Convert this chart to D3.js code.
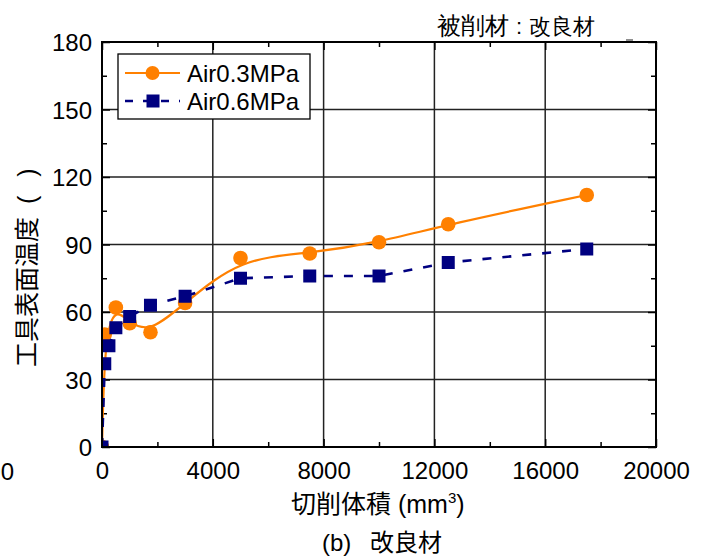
<!DOCTYPE html>
<html>
<head>
<meta charset="utf-8">
<script src="https://cdn.jsdelivr.net/npm/d3@7"></script>
<style>
  body { margin: 0; background: #fff; }
  svg { display: block; }
  text { font-family: "Liberation Sans", Arial, sans-serif; fill: #000; }
  .cjk { font-family: "Noto Sans CJK JP", "Noto Sans CJK SC", sans-serif; }
</style>
</head>
<body>
<svg id="chart" width="709" height="558"></svg>
<script>
// Cutting volume (mm^3) and tool surface temperature for each air pressure
const volume03 = [0, 100, 500, 1000, 1750, 3000, 5000, 7500, 10000, 12500, 17500];
const temp03   = [0, 50, 62, 55, 51, 64, 84, 86, 91, 99, 112];
const volume06 = [0, 100, 250, 500, 1000, 1750, 3000, 5000, 7500, 10000, 12500, 17500];
const temp06   = [0, 37, 45, 53, 58, 63, 67, 75, 76, 76, 82, 88];

const seriesNames = ["Air0.3MPa", "Air0.6MPa"];
const xTicks = [0, 4000, 8000, 12000, 16000, 20000];
const xMinor = [2000, 6000, 10000, 14000, 18000];
const yTicks = [0, 30, 60, 90, 120, 150, 180];
const yMinor = [15, 45, 75, 105, 135, 165];

const svg = d3.select("#chart");
const L = 102, R = 656, T = 42, B = 447;

const x = d3.scaleLinear().domain([0, 20000]).range([L, R]);
const y = d3.scaleLinear().domain([0, 180]).range([B, T]);

const ORANGE = "#ff8000", NAVY = "#000080";

// grid lines at interior major ticks
const grid = svg.append("g").attr("stroke", "#222").attr("stroke-width", 1.5);
grid.selectAll(".gx").data(xTicks.slice(1, -1)).join("line")
  .attr("x1", d => x(d)).attr("x2", d => x(d)).attr("y1", T).attr("y2", B);
grid.selectAll(".gy").data(yTicks.slice(1, -1)).join("line")
  .attr("x1", L).attr("x2", R).attr("y1", d => y(d)).attr("y2", d => y(d));

// inward ticks on all four sides
function tickAxis(axisFn, scale, values, size, transform) {
  const g = svg.append("g").attr("transform", transform)
    .call(axisFn(scale).tickValues(values).tickSize(-size).tickFormat(""));
  g.select(".domain").remove();
  g.selectAll(".tick line").attr("stroke", "#000").attr("stroke-width", 1.5);
}
tickAxis(d3.axisLeft, y, yTicks, 8, `translate(${L},0)`);
tickAxis(d3.axisLeft, y, yMinor, 5, `translate(${L},0)`);
tickAxis(d3.axisRight, y, yTicks, 8, `translate(${R},0)`);
tickAxis(d3.axisRight, y, yMinor, 5, `translate(${R},0)`);
tickAxis(d3.axisBottom, x, xTicks, 8, `translate(0,${B})`);
tickAxis(d3.axisBottom, x, xMinor, 5, `translate(0,${B})`);
tickAxis(d3.axisTop, x, xTicks, 8, `translate(0,${T})`);
tickAxis(d3.axisTop, x, xMinor, 5, `translate(0,${T})`);

// tick labels
const yLab = svg.append("g").attr("transform", `translate(${L},0)`)
  .call(d3.axisLeft(y).tickValues(yTicks).tickSize(0).tickPadding(10));
yLab.select(".domain").remove();
yLab.selectAll("text").attr("font-size", 24).attr("font-family", "Liberation Sans, Arial, sans-serif")
  .attr("dy", "0.36em").attr("fill", "#000");

const xLab = svg.append("g").attr("transform", `translate(0,${B})`)
  .call(d3.axisBottom(x).tickValues(xTicks).tickSize(0).tickPadding(15).tickFormat(d3.format("d")));
xLab.select(".domain").remove();
xLab.selectAll("text").attr("font-size", 24).attr("font-family", "Liberation Sans, Arial, sans-serif")
  .attr("fill", "#000");

// clip region for data
svg.append("clipPath").attr("id", "plotClip")
  .append("rect").attr("x", L).attr("y", T).attr("width", R - L).attr("height", B - T);
const plot = svg.append("g").attr("clip-path", "url(#plotClip)");

const pts03 = volume03.map((v, i) => [v, temp03[i]]);
const pts06 = volume06.map((v, i) => [v, temp06[i]]);

// Air0.3MPa: smoothed B-spline with circles
plot.append("path").datum(pts03)
  .attr("fill", "none").attr("stroke", ORANGE).attr("stroke-width", 2.2)
  .attr("d", d3.line().x(d => x(d[0])).y(d => y(d[1])).curve(d3.curveBasis));
plot.selectAll(".c03").data(pts03).join("circle")
  .attr("cx", d => x(d[0])).attr("cy", d => y(d[1])).attr("r", 7.3).attr("fill", ORANGE);

// Air0.6MPa: dashed straight segments with squares
plot.append("path").datum(pts06)
  .attr("fill", "none").attr("stroke", NAVY).attr("stroke-width", 2.6)
  .attr("stroke-dasharray", "9,11")
  .attr("d", d3.line().x(d => x(d[0])).y(d => y(d[1])));
const S = 13;
plot.selectAll(".s06").data(pts06).join("rect")
  .attr("x", d => x(d[0]) - S / 2).attr("y", d => y(d[1]) - S / 2)
  .attr("width", S).attr("height", S).attr("fill", NAVY);

// frame
svg.append("rect").attr("x", L).attr("y", T).attr("width", R - L).attr("height", B - T)
  .attr("fill", "none").attr("stroke", "#000").attr("stroke-width", 2);

// legend
const lg = svg.append("g");
lg.append("rect").attr("x", 118).attr("y", 54).attr("width", 192).attr("height", 65)
  .attr("fill", "#fff").attr("stroke", "#000").attr("stroke-width", 1.3);
const rows = [
  { name: seriesNames[0], color: ORANGE, dash: null, w: 2.2, marker: "circle", cy: 73 },
  { name: seriesNames[1], color: NAVY, dash: "8,10", w: 2.6, marker: "square", cy: 101 }
];
rows.forEach(r => {
  lg.append("line").attr("x1", 125).attr("x2", 180).attr("y1", r.cy).attr("y2", r.cy)
    .attr("stroke", r.color).attr("stroke-width", r.w).attr("stroke-dasharray", r.dash);
  if (r.marker === "circle") {
    lg.append("circle").attr("cx", 152.5).attr("cy", r.cy).attr("r", 7).attr("fill", r.color);
  } else {
    lg.append("rect").attr("x", 146.5).attr("y", r.cy - 6.5).attr("width", 13).attr("height", 13).attr("fill", r.color);
  }
  lg.append("text").attr("x", 187).attr("y", r.cy + 8.7).attr("font-size", 24).text(r.name);
});

// axis titles
const yt = svg.append("text").attr("class", "cjk").attr("font-size", 25)
  .attr("transform", "translate(36,367) rotate(-90)");
yt.append("tspan").text("工具表面温度");
yt.append("tspan").attr("dx", 13).attr("font-family", "Liberation Sans, Arial, sans-serif").text("(");
yt.append("tspan").attr("dx", 19).attr("font-family", "Liberation Sans, Arial, sans-serif").text(")");

const xt = svg.append("text").attr("x", 291).attr("y", 513).attr("font-size", 25);
xt.append("tspan").attr("class", "cjk").attr("font-family", "Noto Sans CJK JP").text("切削体積");
xt.append("tspan").text(" (mm");
xt.append("tspan").attr("font-size", 15).attr("dy", -10).text("3");
xt.append("tspan").attr("dy", 10).text(")");

const sub = svg.append("text").attr("x", 322).attr("y", 551).attr("font-size", 24);
sub.append("tspan").text("(b)");
sub.append("tspan").attr("x", 370).attr("font-family", "Noto Sans CJK JP").text("改良材");

// material note, top right
const note = svg.append("text").attr("y", 34).attr("font-family", "Noto Sans CJK JP");
note.append("tspan").attr("x", 437).attr("font-size", 24).text("被削材");
note.append("tspan").attr("x", 516).attr("font-size", 22).attr("font-family", "Liberation Sans, Arial, sans-serif").text(":");
note.append("tspan").attr("x", 529).attr("font-size", 21.5).text("改良材");
svg.append("line").attr("x1", 626).attr("x2", 633).attr("y1", 40).attr("y2", 40)
  .attr("stroke", "#444").attr("stroke-width", 1.2);

// neighbouring axis label at the page edge
svg.append("text").attr("x", 14).attr("y", 480).attr("font-size", 24)
  .attr("text-anchor", "end").text("00");
</script>
</body>
</html>
